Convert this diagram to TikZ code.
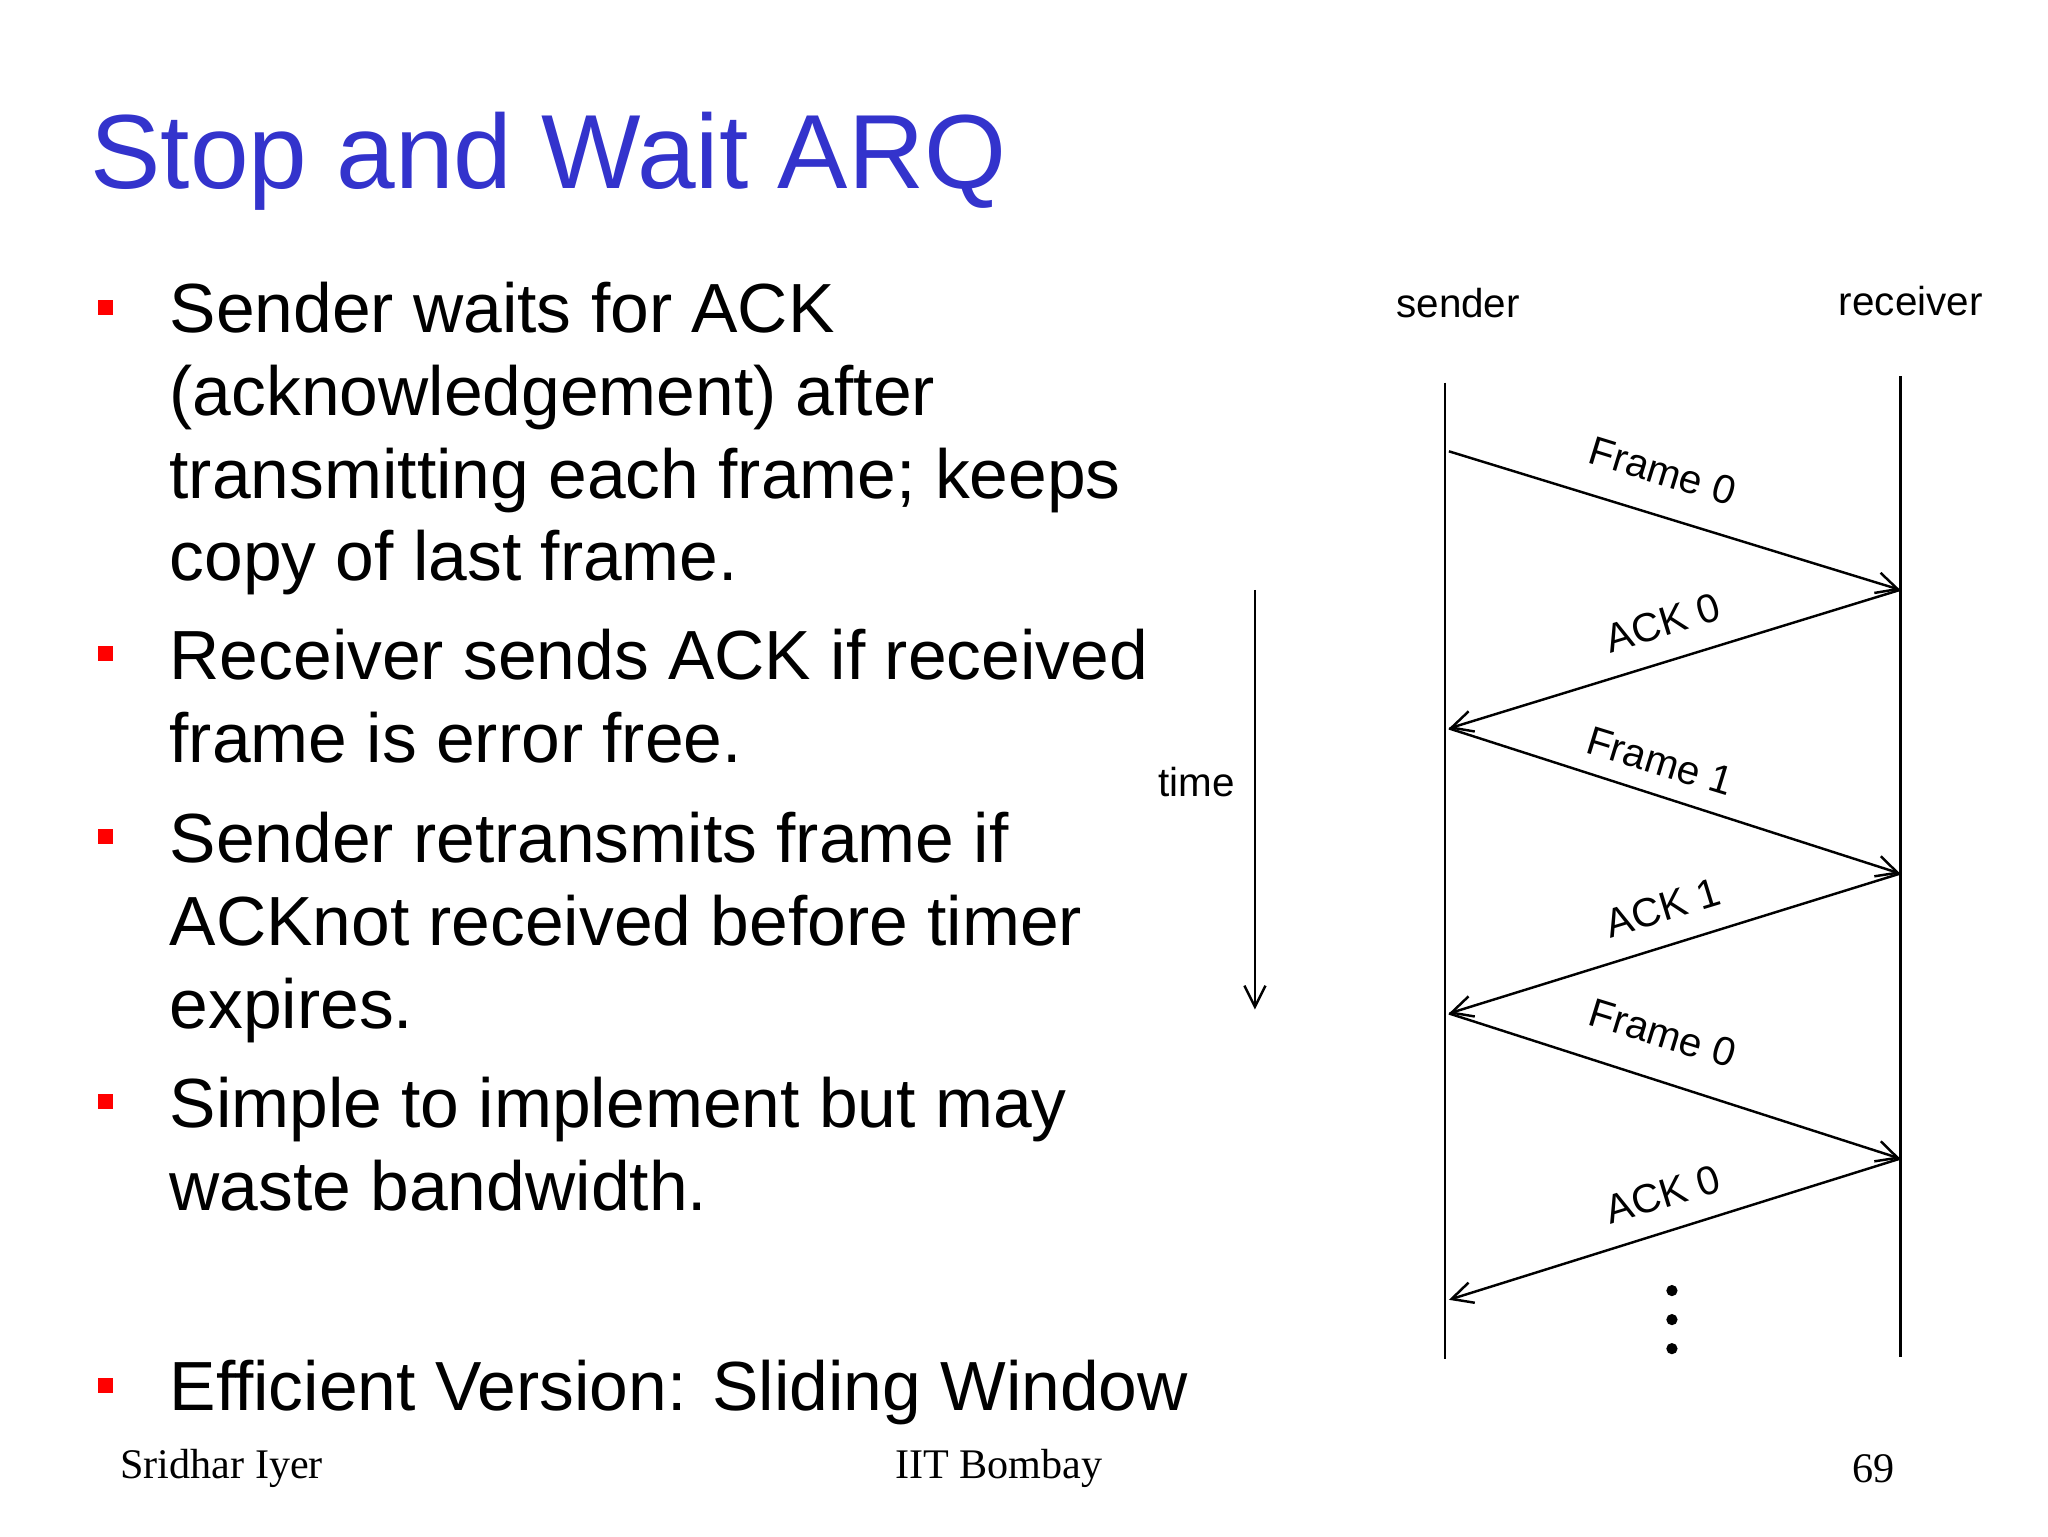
\documentclass[tikz,border=0pt]{standalone}
\usepackage{fontspec}
\setmainfont{Liberation Sans}
\newfontfamily\serifft{Liberation Serif}
\usetikzlibrary{arrows.meta}
\definecolor{titleblue}{RGB}{51,51,204}
\begin{document}
\begin{tikzpicture}[x=0.0132cm,y=-0.0132cm,
  bul/.style={fill=red,inner sep=0,minimum size=4.2pt},
  btxt/.style={anchor=north west,align=left,font=\fontsize{19.8}{23.6}\selectfont,inner sep=0},
  lbl/.style={font=\fontsize{11.5}{13}\selectfont,inner sep=1pt},
  msg/.style={-{Straight Barb[length=6pt,width=6pt]},line width=0.7pt},
  tl/.style={line width=0.8pt}]
\useasboundingbox (0,0) rectangle (1552,1164);
\node[anchor=west,text=titleblue,font=\fontsize{30}{36}\selectfont,inner sep=0] (title) at (68,122) {Stop and Wait ARQ};
\node[bul] (b1) at (80,233) {};
\node[btxt] (t1) at (128,213) {Sender waits for ACK\\(acknowledgement) after\\transmitting each frame; keeps\\copy of last frame.};
\node[bul] (b2) at (80,495) {};
\node[btxt] (t2) at (128,476) {Receiver sends ACK if received\\frame is error free.};
\node[bul] (b3) at (80,634) {};
\node[btxt] (t3) at (128,615) {Sender retransmits frame if\\ACKnot received before timer\\expires.};
\node[bul] (b4) at (80,835) {};
\node[btxt] (t4) at (128,816) {Simple to implement but may\\waste bandwidth.};
\node[bul] (b5) at (80,1050) {};
\node[btxt] (t5) at (128,1030) {Efficient Version: Sliding Window};
\node[font=\serifft\fontsize{12}{14}\selectfont] (f1) at (168,1113) {Sridhar Iyer};
\node[font=\serifft\fontsize{12}{14}\selectfont] (f2) at (757,1113) {IIT Bombay};
\node[font=\serifft\fontsize{12}{14}\selectfont] (f3) at (1420,1113) {69};
% diagram
\node[lbl] (sl) at (1105,230) {sender};
\node[lbl] (rl) at (1448,228) {receiver};
\coordinate (s0) at (1095,290); \coordinate (s9) at (1095,1030);
\coordinate (r0) at (1440,285); \coordinate (r9) at (1440,1028);
\draw[tl] (s0) -- (s9); \draw[tl] (r0) -- (r9);
\coordinate (a1) at (1098,342); \coordinate (a2) at (1440,447);
\coordinate (a3) at (1098,552); \coordinate (a4) at (1440,662);
\coordinate (a5) at (1098,768); \coordinate (a6) at (1440,878);
\coordinate (a7) at (1098,985);
\draw[msg] (a1) -- (a2); \draw[msg] (a2) -- (a3); \draw[msg] (a3) -- (a4);
\draw[msg] (a4) -- (a5); \draw[msg] (a5) -- (a6); \draw[msg] (a6) -- (a7);
\node[lbl,rotate=-17] (l1) at (1260,357) {Frame 0};
\node[lbl,rotate=17] (l2) at (1260,472) {ACK 0};
\node[lbl,rotate=-17] (l3) at (1258,577) {Frame 1};
\node[lbl,rotate=17] (l4) at (1260,688) {ACK 1};
\node[lbl,rotate=-17] (l5) at (1260,783) {Frame 0};
\node[lbl,rotate=17] (l6) at (1260,905) {ACK 0};
\fill (1267,978) circle (1.6pt) (1267,1000) circle (1.6pt) (1267,1022) circle (1.6pt);
\coordinate (tm0) at (951,447); \coordinate (tm1) at (951,765);
\draw[msg] (tm0) -- (tm1);
\node[lbl] (tml) at (907,593) {time};
\end{tikzpicture}
\end{document}
